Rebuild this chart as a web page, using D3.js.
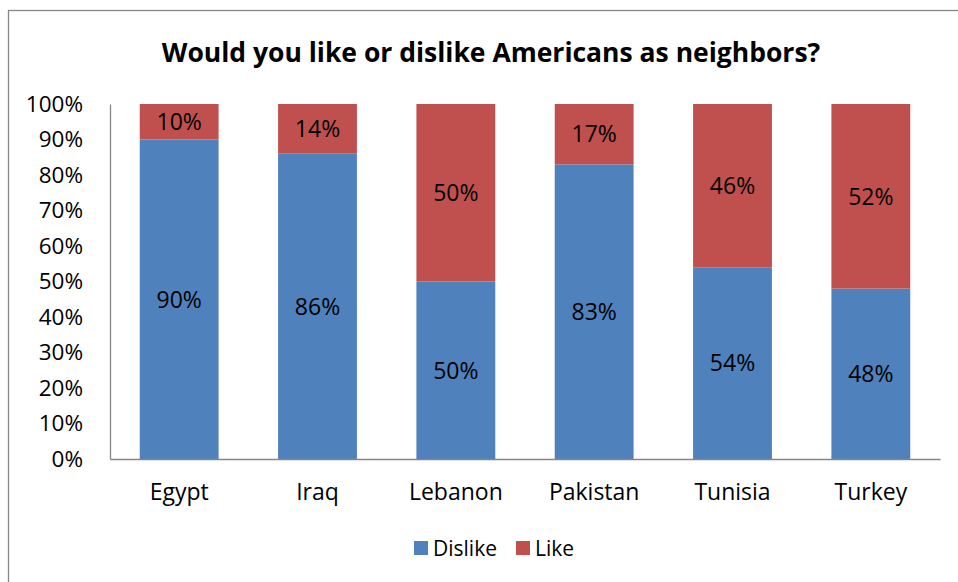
<!DOCTYPE html>
<html>
<head>
<meta charset="utf-8">
<script src="https://cdn.jsdelivr.net/npm/d3@7"></script>
<style>
  html, body { margin: 0; padding: 0; background: #fff; }
  svg { display: block; }
  text { font-family: "Open Sans", "Noto Sans", sans-serif; fill: #000; }
</style>
</head>
<body>
<svg id="chart" width="958" height="582"></svg>
<script>
const categories = ["Egypt", "Iraq", "Lebanon", "Pakistan", "Tunisia", "Turkey"];
const dislike = [90, 86, 50, 83, 54, 48];
const like = [10, 14, 50, 17, 46, 52];
const seriesNames = ["Dislike", "Like"];
const seriesColors = ["#4F81BD", "#C0504D"];
const yTicks = [0, 0.1, 0.2, 0.3, 0.4, 0.5, 0.6, 0.7, 0.8, 0.9, 1.0];
const title = "Would you like or dislike Americans as neighbors?";

const svg = d3.select("#chart");

// outer chart border (only top and left visible in frame)
svg.append("rect")
  .attr("x", 8.5).attr("y", 10.5)
  .attr("width", 980).attr("height", 600)
  .attr("fill", "#fff").attr("stroke", "#868686").attr("stroke-width", 1.3);

const plot = { left: 110, right: 940, top: 104, bottom: 459 };

const rows = categories.map((c, i) => ({ category: c, Dislike: dislike[i], Like: like[i] }));
const stack = d3.stack().keys(seriesNames).offset(d3.stackOffsetExpand);
const stacked = stack(rows);

const x = d3.scaleBand()
  .domain(categories)
  .range([plot.left, plot.right])
  .paddingInner(0.43)
  .paddingOuter(0.215);

const y = d3.scaleLinear().domain([0, 1]).range([plot.bottom, plot.top]);
const color = d3.scaleOrdinal().domain(seriesNames).range(seriesColors);

// bars
const layers = svg.append("g").selectAll("g")
  .data(stacked).join("g")
  .attr("fill", d => color(d.key));

layers.selectAll("rect")
  .data(d => d.map(v => ({ key: d.key, v })))
  .join("rect")
  .attr("x", d => x(d.v.data.category))
  .attr("width", x.bandwidth())
  .attr("y", d => y(d.v[1]))
  .attr("height", d => y(d.v[0]) - y(d.v[1]));

// data labels
layers.selectAll("text")
  .data(d => d.map(v => ({ key: d.key, v })))
  .join("text")
  .attr("x", d => x(d.v.data.category) + x.bandwidth() / 2)
  .attr("y", d => (y(d.v[0]) + y(d.v[1])) / 2)
  .attr("dy", "0.36em")
  .attr("text-anchor", "middle")
  .attr("font-size", 23)
  .attr("fill", "#000")
  .text(d => d.v.data[d.key] + "%");

// y axis
const yAxis = d3.axisLeft(y)
  .tickValues(yTicks)
  .tickFormat(d3.format(".0%"))
  .tickSize(0)
  .tickPadding(27);
const gy = svg.append("g").attr("transform", `translate(${plot.left},0)`).call(yAxis);
gy.select(".domain").attr("stroke", "#868686").attr("stroke-width", 1.3);
gy.selectAll(".tick text")
  .attr("font-family", '"Open Sans", sans-serif')
  .attr("font-size", 22.5)
  .attr("fill", "#000");

// x axis
const xAxis = d3.axisBottom(x).tickSize(0).tickPadding(25);
const gx = svg.append("g").attr("transform", `translate(0,${plot.bottom})`).call(xAxis);
gx.select(".domain").attr("stroke", "#868686").attr("stroke-width", 1.5);
gx.selectAll(".tick text")
  .attr("font-family", '"Open Sans", sans-serif')
  .attr("font-size", 23)
  .attr("fill", "#000");

// title
svg.append("text")
  .attr("x", 491).attr("y", 62)
  .attr("text-anchor", "middle")
  .attr("font-size", 26.5)
  .attr("font-weight", "bold")
  .text(title);

// legend
const legendItems = [
  { name: seriesNames[0], x: 414, tx: 433 },
  { name: seriesNames[1], x: 516, tx: 535 }
];
const lg = svg.append("g");
lg.selectAll("rect").data(legendItems).join("rect")
  .attr("x", d => d.x).attr("y", 541)
  .attr("width", 14).attr("height", 14)
  .attr("fill", d => color(d.name));
lg.selectAll("text").data(legendItems).join("text")
  .attr("x", d => d.tx).attr("y", 548)
  .attr("dy", "0.36em")
  .attr("font-size", 21)
  .text(d => d.name);
</script>
</body>
</html>
